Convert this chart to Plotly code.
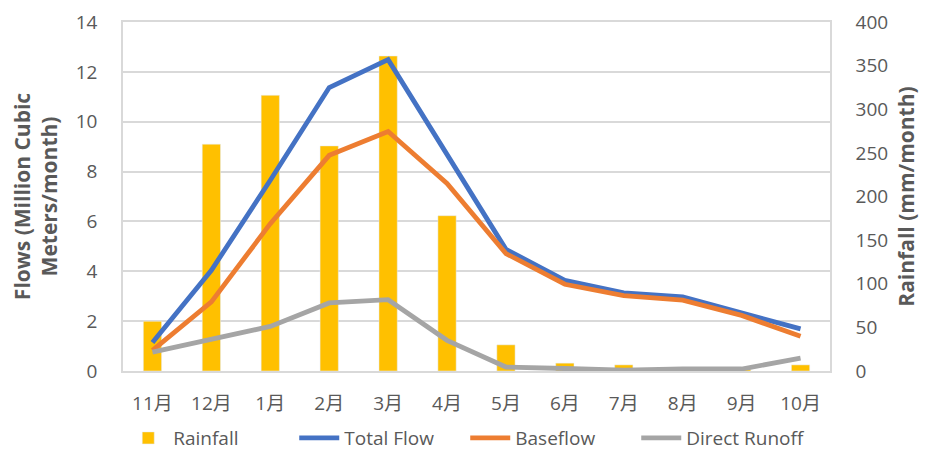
import plotly.graph_objects as go

months = ["11月", "12月", "1月", "2月", "3月", "4月", "5月", "6月", "7月", "8月", "9月", "10月"]
rainfall = [57, 260, 316, 258, 361, 178, 30, 9, 7, 2, 2, 7]
total_flow = [1.14, 4.04, 7.65, 11.37, 12.49, 8.70, 4.88, 3.64, 3.13, 2.97, 2.33, 1.69]
baseflow = [0.83, 2.77, 5.91, 8.65, 9.61, 7.52, 4.71, 3.48, 3.02, 2.84, 2.23, 1.39]
direct_runoff = [0.76, 1.26, 1.79, 2.73, 2.86, 1.23, 0.16, 0.10, 0.03, 0.08, 0.08, 0.52]

FONT = "'Open Sans', 'Noto Sans CJK SC', sans-serif"
GREY = "#595959"
LINE = "#d9d9d9"

fig = go.Figure()
fig.add_trace(go.Bar(x=months, y=rainfall, name="Rainfall", marker_color="#FFC000",
                     yaxis="y"))
fig.add_trace(go.Scatter(x=months, y=total_flow, name="Total Flow", mode="lines",
                         line=dict(color="#4472C4", width=4.8), yaxis="y2"))
fig.add_trace(go.Scatter(x=months, y=baseflow, name="Baseflow", mode="lines",
                         line=dict(color="#ED7D31", width=4.8), yaxis="y2"))
fig.add_trace(go.Scatter(x=months, y=direct_runoff, name="Direct Runoff", mode="lines",
                         line=dict(color="#A5A5A5", width=4.8), yaxis="y2"))

fig.update_layout(
    width=920, height=442,
    margin=dict(l=115, r=98, t=14, b=79, autoexpand=False),
    plot_bgcolor="white", paper_bgcolor="white",
    font=dict(family=FONT, size=19, color=GREY),
    bargap=0.69,
    showlegend=True,
    legend=dict(orientation="h", xref="container", yref="container",
                x=0.497, xanchor="center", y=0.027, yanchor="middle",
                font=dict(size=19, color=GREY), itemwidth=40, traceorder="normal",
                entrywidth=116, entrywidthmode="pixels"),
    xaxis=dict(showgrid=False, showline=True, linecolor=LINE, linewidth=1.5,
               mirror=True, ticks="", automargin=False, ticklabelstandoff=14,
               tickfont=dict(size=19, color=GREY)),
    yaxis=dict(side="right", range=[0, 400], dtick=50, showgrid=False, zeroline=False,
               showline=True, linecolor=LINE, linewidth=1.5,
               automargin=False, ticklabelstandoff=20,
               tickfont=dict(size=19, color=GREY),
               title=dict(text="<b>Rainfall (mm/month)</b>", font=dict(size=21, color=GREY),
                          standoff=12)),
    yaxis2=dict(side="left", overlaying="y", range=[0, 14], dtick=2, showgrid=True,
                gridcolor=LINE, gridwidth=1.5, zeroline=False, automargin=False,
                showline=True, linecolor=LINE, linewidth=1.5,
                ticklabelstandoff=20,
                tickfont=dict(size=19, color=GREY),
                title=dict(text="<b>Flows (Million Cubic<br>Meters/month)</b>",
                           font=dict(size=21, color=GREY), standoff=14)),
)

fig.write_html("out.html")
